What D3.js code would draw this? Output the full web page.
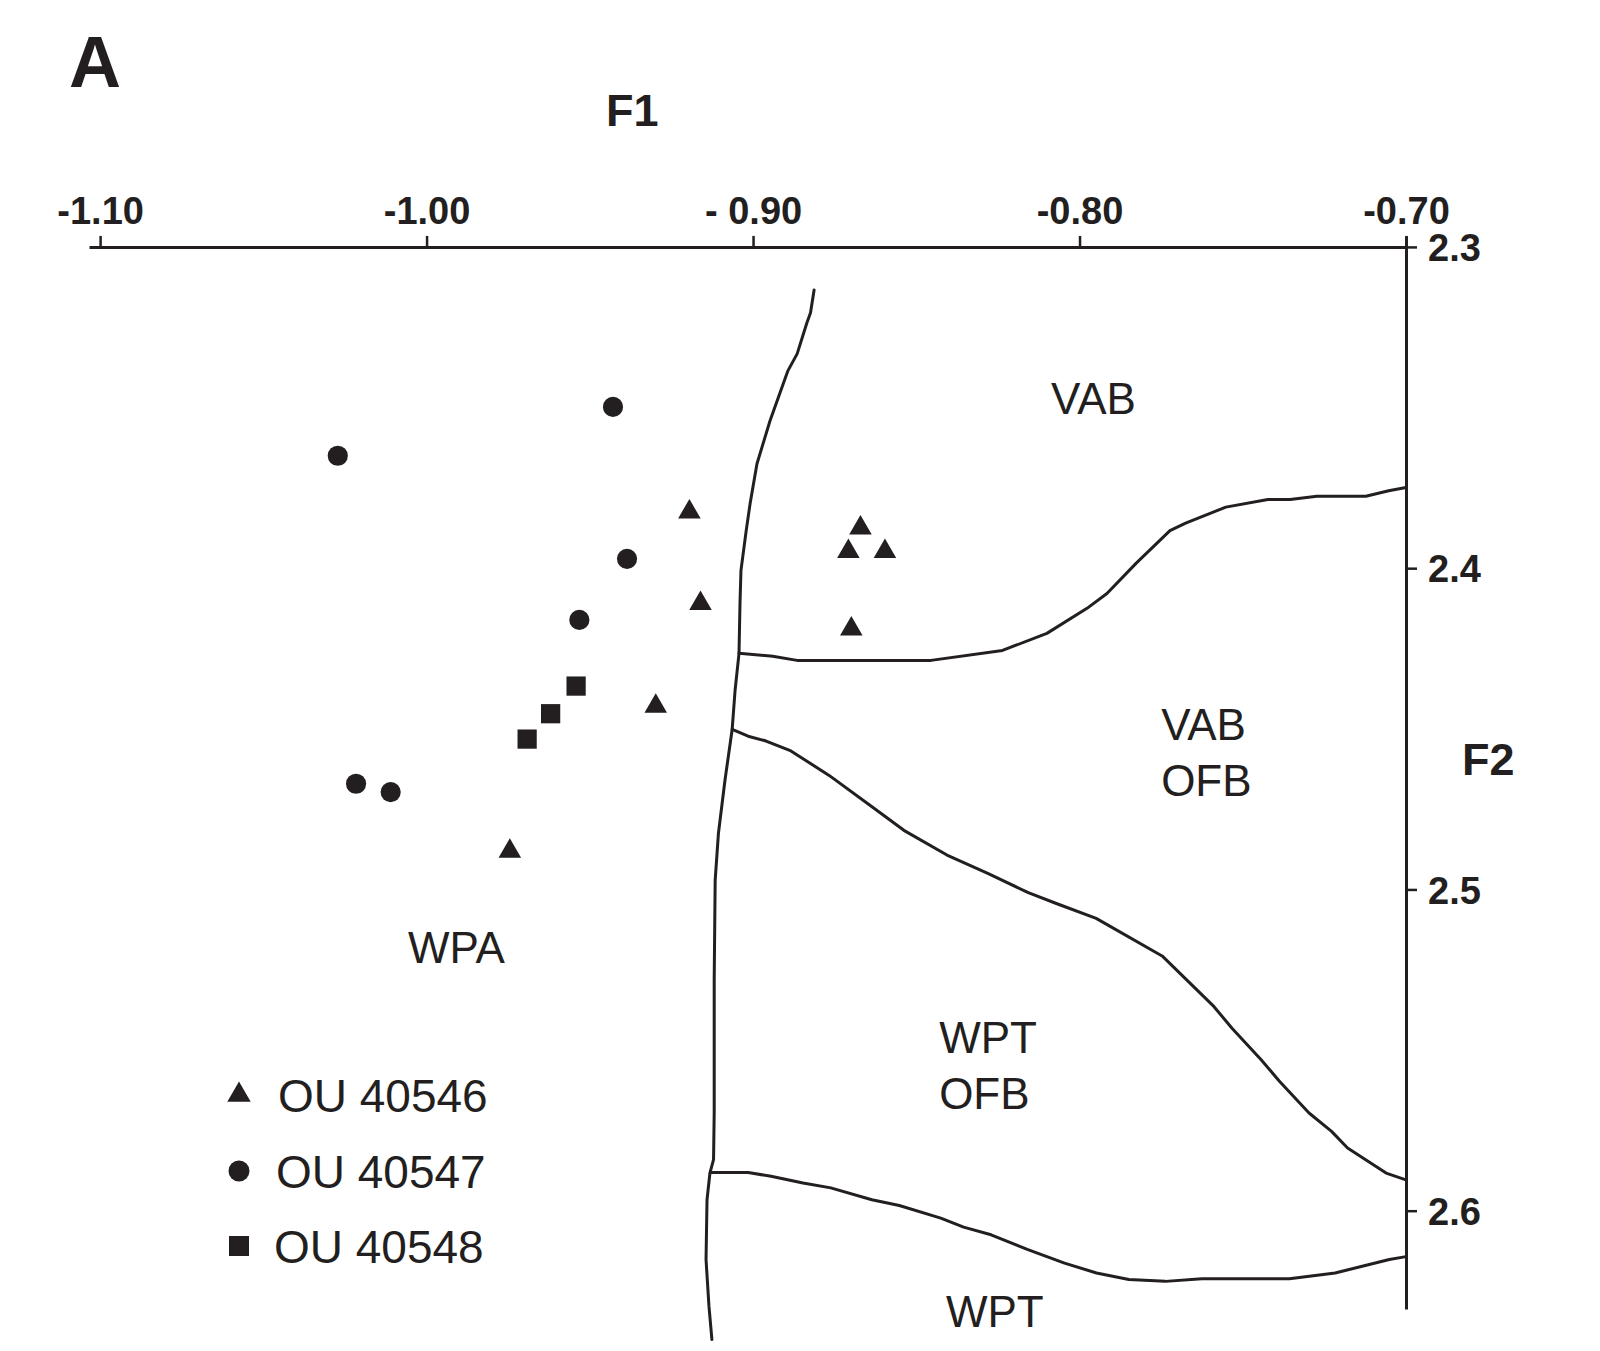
<!DOCTYPE html>
<html>
<head>
<meta charset="utf-8">
<script src="https://cdn.jsdelivr.net/npm/d3@7/dist/d3.min.js"></script>
<style>
    body { margin: 0; background: #fff; }
    svg text { font-family: "Liberation Sans", Arial, Helvetica, sans-serif; fill: #231f20; }
</style>
</head>
<body>
<svg id="chart" width="1600" height="1351"></svg>
<script>
// axis ticks
const F1_TICKS = [-1.10, -1.00, -0.90, -0.80, -0.70];
const F1_TICK_LABELS = ["-1.10", "-1.00", "- 0.90", "-0.80", "-0.70"];
const F2_TICKS = [2.3, 2.4, 2.5, 2.6];
const F2_TICK_LABELS = ["2.3", "2.4", "2.5", "2.6"];

const SERIES_NAMES = ["OU 40546", "OU 40547", "OU 40548"];

// samples, [F1, F2]
let ou40546 = [
    [-0.9195, 2.3825], [-0.8671, 2.3875], [-0.8708, 2.3948], [-0.8596, 2.3948],
    [-0.9161, 2.4110], [-0.8699, 2.4189], [-0.9298, 2.4430], [-0.9745, 2.4881]
];
let ou40547 = [
    [-0.9429, 2.3498], [-1.0272, 2.3650], [-0.9386, 2.3971],
    [-0.9532, 2.4161], [-1.0216, 2.4671], [-1.0110, 2.4697]
];
let ou40548 = [
    [-0.9542, 2.4367], [-0.9620, 2.4453], [-0.9692, 2.4532]
];

// field boundaries, [F1, F2]
let boundaryWpa = [
    [-0.8813, 2.3134], [-0.8824, 2.3205], [-0.8835, 2.3236], [-0.8865, 2.3333],
    [-0.8893, 2.3385], [-0.8948, 2.3541], [-0.8988, 2.3675], [-0.9009, 2.3799],
    [-0.9021, 2.3883], [-0.9037, 2.4007], [-0.9040, 2.4110], [-0.9043, 2.4265],
    [-0.9055, 2.4380], [-0.9064, 2.4502], [-0.9086, 2.4660], [-0.9106, 2.4825],
    [-0.9116, 2.4971], [-0.9119, 2.5282], [-0.9119, 2.5695], [-0.9121, 2.5841],
    [-0.9132, 2.5882], [-0.9141, 2.5966], [-0.9144, 2.6152], [-0.9135, 2.6298],
    [-0.9126, 2.6401]
];
let boundaryVab = [
    [-0.9043, 2.4265], [-0.8940, 2.4274], [-0.8865, 2.4287], [-0.8455, 2.4287],
    [-0.8236, 2.4256], [-0.8100, 2.4203], [-0.7977, 2.4125], [-0.7916, 2.4079],
    [-0.7827, 2.3985], [-0.7723, 2.3883], [-0.7675, 2.3860], [-0.7552, 2.3810],
    [-0.7423, 2.3786], [-0.7355, 2.3786], [-0.7273, 2.3776], [-0.7123, 2.3776],
    [-0.7053, 2.3759], [-0.7000, 2.3749]
];
let boundaryOfb = [
    [-0.9064, 2.4502], [-0.9015, 2.4523], [-0.8960, 2.4538], [-0.8884, 2.4569],
    [-0.8767, 2.4645], [-0.8642, 2.4738], [-0.8538, 2.4816], [-0.8406, 2.4893],
    [-0.8281, 2.4950], [-0.8157, 2.5010], [-0.8073, 2.5043], [-0.7949, 2.5090],
    [-0.7747, 2.5207], [-0.7588, 2.5365], [-0.7533, 2.5432], [-0.7443, 2.5531],
    [-0.7387, 2.5598], [-0.7297, 2.5696], [-0.7228, 2.5753], [-0.7179, 2.5805],
    [-0.7061, 2.5883], [-0.7000, 2.5904]
];
let boundaryWpt = [
    [-0.9128, 2.5881], [-0.9015, 2.5881], [-0.8945, 2.5893], [-0.8847, 2.5914],
    [-0.8762, 2.5929], [-0.8636, 2.5966], [-0.8552, 2.5984], [-0.8425, 2.6023],
    [-0.8355, 2.6051], [-0.8271, 2.6075], [-0.8158, 2.6121], [-0.8046, 2.6163],
    [-0.7948, 2.6194], [-0.7849, 2.6214], [-0.7737, 2.6220], [-0.7625, 2.6212],
    [-0.7357, 2.6212], [-0.7217, 2.6194], [-0.7051, 2.6152], [-0.7000, 2.6143]
];

const INK = "#231f20";

let svg = d3.select("#chart");

let x = d3.scaleLinear().domain([-1.1034, -0.70]).range([89, 1406]);
let y = d3.scaleLinear().domain([2.2966, 2.6306]).range([236, 1309]);

// top axis (F1), ticks pointing up
let xAxis = svg.append("g")
    .attr("transform", "translate(0," + y(2.3) + ")")
    .call(d3.axisTop(x)
        .tickValues(F1_TICKS)
        .tickFormat((d, i) => F1_TICK_LABELS[i])
        .tickSizeInner(11)
        .tickSizeOuter(0)
        .tickPadding(12));

// right axis (F2), ticks pointing right
let yAxis = svg.append("g")
    .attr("transform", "translate(" + x(-0.70) + ",0)")
    .call(d3.axisRight(y)
        .tickValues(F2_TICKS)
        .tickFormat((d, i) => F2_TICK_LABELS[i])
        .tickSizeInner(11)
        .tickSizeOuter(0)
        .tickPadding(11));

[xAxis, yAxis].forEach((g) => {
    g.attr("font-family", null).attr("font-size", null);
    g.select(".domain").attr("stroke", INK).attr("stroke-width", 3);
    g.selectAll(".tick line").attr("stroke", INK).attr("stroke-width", 2.5);
    g.selectAll(".tick text")
        .attr("fill", INK)
        .style("font-size", "38px")
        .style("font-weight", "bold");
});
yAxis.selectAll(".tick text").attr("dy", "0.36em");

// titles
svg.append("text").attr("x", 69).attr("y", 87)
    .style("font-size", "72px").style("font-weight", "bold").text("A");
svg.append("text").attr("x", 606).attr("y", 126)
    .style("font-size", "45px").style("font-weight", "bold").text("F1");
svg.append("text").attr("x", 1462).attr("y", 775)
    .style("font-size", "45px").style("font-weight", "bold").text("F2");

// boundaries
let line = d3.line()
    .x((d) => x(d[0]))
    .y((d) => y(d[1]));

[boundaryWpa, boundaryVab, boundaryOfb, boundaryWpt].forEach((b) => {
    svg.append("path")
        .datum(b)
        .attr("fill", "none")
        .attr("stroke", INK)
        .attr("stroke-width", 3)
        .attr("stroke-linejoin", "round")
        .attr("stroke-linecap", "round")
        .attr("d", line);
});

// field names
function fieldLabel(lines, f1, f2) {
    let t = svg.append("text")
        .attr("x", x(f1))
        .attr("y", y(f2))
        .style("font-size", "44px");
    lines.forEach((s, i) => {
        t.append("tspan").attr("x", x(f1)).attr("dy", i === 0 ? 0 : 56).text(s);
    });
}
fieldLabel(["VAB"], -0.8087, 2.3519);
fieldLabel(["VAB", "OFB"], -0.7750, 2.4536);
fieldLabel(["WPT", "OFB"], -0.8430, 2.5509);
fieldLabel(["WPT"], -0.8409, 2.6361);
fieldLabel(["WPA"], -1.0057, 2.5229);

// samples
let series = [
    {name: SERIES_NAMES[0], values: ou40546, symbol: d3.symbolTriangle, size: 220},
    {name: SERIES_NAMES[1], values: ou40547, symbol: d3.symbolCircle, size: 320},
    {name: SERIES_NAMES[2], values: ou40548, symbol: d3.symbolSquare, size: 370}
];

series.forEach((s) => {
    svg.append("g").selectAll("path")
        .data(s.values)
        .join("path")
        .attr("transform", (d) => "translate(" + x(d[0]) + "," + y(d[1]) + ")")
        .attr("d", d3.symbol().type(s.symbol).size(s.size))
        .attr("fill", INK);
});

// legend
let legendRowY = [1095, 1171, 1246];
series.forEach((s, i) => {
    svg.append("path")
        .attr("transform", "translate(239," + legendRowY[i] + ")")
        .attr("d", d3.symbol().type(s.symbol).size(s.size * 1.08))
        .attr("fill", INK);
    svg.append("text")
        .attr("x", 278 - i * 2)
        .attr("y", legendRowY[i] + 17)
        .style("font-size", "46px")
        .text(s.name);
});
</script>
</body>
</html>
